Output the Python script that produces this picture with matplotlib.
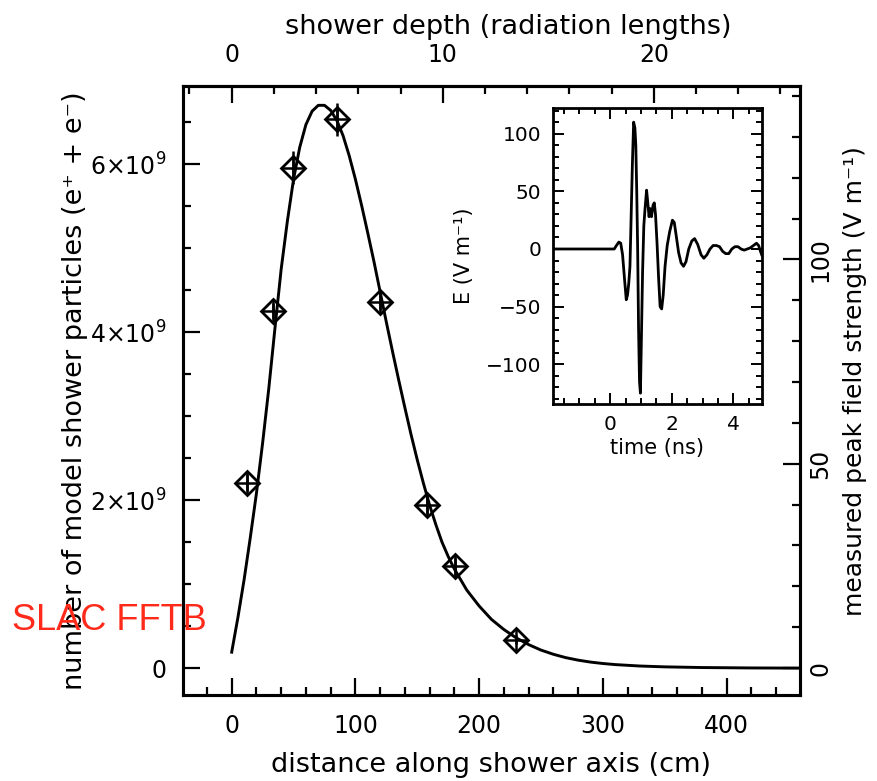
import numpy as np
import matplotlib
matplotlib.use("Agg")
import matplotlib.pyplot as plt
from matplotlib.ticker import MultipleLocator, FixedLocator

plt.rcParams['font.family'] = ['DejaVu Sans']

# ---------------- data ----------------
# model shower curve: distance (cm) vs number of particles (units of 1e9)
curve_x = [0, 5, 10, 15, 20, 25, 30, 35, 40, 45, 50, 55, 60, 65, 70, 75, 80, 85,
           90, 95, 100, 105, 110, 115, 120, 125, 130, 135, 140, 145, 150, 155, 160,
           165, 170, 175, 180, 190, 200, 210, 220, 230, 240, 250, 260, 270, 280,
           290, 300, 310, 330, 350, 380, 420, 460]
curve_n = [0.19, 0.60, 1.05, 1.55, 2.08, 2.68, 3.33, 4.05, 4.75, 5.32, 5.82, 6.20,
           6.47, 6.63, 6.70, 6.70, 6.64, 6.52, 6.34, 6.10, 5.82, 5.51, 5.18, 4.84,
           4.48, 4.12, 3.77, 3.43, 3.10, 2.78, 2.48, 2.20, 1.94, 1.71, 1.50, 1.33,
           1.18, 0.93, 0.74, 0.58, 0.46, 0.36, 0.28, 0.215, 0.165, 0.125, 0.095,
           0.072, 0.055, 0.042, 0.025, 0.015, 0.007, 0.002, 0.0]

# measured peak field strength (V/m)
meas_x = [12.1, 33.1, 49.8, 84.9, 119.9, 158.1, 180.5, 229.7]
meas_e = [45.4, 87.3, 122.4, 134.3, 89.6, 39.8, 24.9, 7.0]
meas_err = [2, 2, 4, 4, 2, 2, 2, 1]

# inset waveform: time (ns) vs E (V/m)
wave_t = [-1.87, 0.13, 0.20, 0.28, 0.34, 0.40, 0.46, 0.52, 0.56, 0.60, 0.64, 0.68,
          0.72, 0.76, 0.80, 0.83, 0.86, 0.89, 0.92, 0.95, 0.98, 1.01, 1.05, 1.09,
          1.13, 1.18, 1.22, 1.26, 1.30, 1.34, 1.39, 1.43, 1.47, 1.52, 1.57, 1.62,
          1.67, 1.72, 1.78, 1.85, 1.93, 2.02, 2.08, 2.14, 2.22, 2.30, 2.38, 2.46,
          2.55, 2.65, 2.74, 2.84, 2.95, 3.04, 3.14, 3.24, 3.34, 3.45, 3.55, 3.65,
          3.75, 3.85, 3.95, 4.05, 4.15, 4.25, 4.35, 4.45, 4.55, 4.65, 4.75, 4.82,
          4.88, 4.92]
wave_e = [0, 0, 3, 6, 5, -5, -25, -44, -40, -30, -15, 30,
          75, 110, 105, 90, 50, 0, -70, -115, -125, -80, -20, 20,
          35, 51, 40, 28, 35, 28, 38, 40, 30, 5, -25, -50,
          -52, -40, -15, 3, 15, 25, 23, 12, -3, -12, -15, -11,
          0, 7, 9, 4, -5, -8, -5, 0, 3, 3, 2, -2,
          -4, -4, 0, 2, 2, 0, -1, 0, 1, 3, 5, 3,
          -2, -5]

left_ticks = [0, 2, 4, 6]          # units of 1e9
left_labels = ['0', r'$2{\times}10^{9}$', r'$4{\times}10^{9}$', r'$6{\times}10^{9}$']
bottom_ticks = [0, 100, 200, 300, 400]
top_ticks = [0, 10, 20]
right_ticks = [0, 50, 100]
inset_xticks = [0, 2, 4]
inset_yticks = [-100, -50, 0, 50, 100]
inset_ylabels = ['−100', '−50', '0', '50', '100']

X0 = 17.06            # cm per radiation length
N_PER_VM = 0.04866    # 1e9 particles per V/m (axis scaling)

# ---------------- figure ----------------
W, H = 878, 781
fig = plt.figure(figsize=(W / 100, H / 100), dpi=100)

def fx(px):
    return px / W

def fy(py):
    return 1 - py / H

ax = fig.add_axes([fx(182.7), fy(695), fx(800) - fx(182.7), fy(86) - fy(695)])
lw_sp = 2.2
fs = 17
fl = 19.5

ax.plot(curve_x, curve_n, color='black', lw=2.1, zorder=3, solid_joinstyle='round')
ax.set_xlim(-39.6, 459.4)
ax.set_ylim(-0.32, 6.93)

ax.xaxis.set_major_locator(FixedLocator(bottom_ticks))
ax.xaxis.set_minor_locator(MultipleLocator(20))
ax.yaxis.set_major_locator(FixedLocator(left_ticks))
ax.set_yticklabels(left_labels)
ax.yaxis.set_minor_locator(MultipleLocator(0.5))
ax.tick_params(axis='both', which='major', direction='in', length=12, width=1.6,
               labelsize=fs, top=False, right=False)
ax.tick_params(axis='both', which='minor', direction='in', length=6, width=1.6,
               top=False, right=False)
ax.tick_params(axis='x', which='major', pad=14)
ax.tick_params(axis='y', which='major', pad=12)
for s in ax.spines.values():
    s.set_linewidth(lw_sp)
ax.set_xlabel('distance along shower axis (cm)', fontsize=fl, labelpad=10)
ax.set_ylabel('number of model shower particles (e⁺ + e⁻)', fontsize=fl, labelpad=1)

# top axis: shower depth
sec = ax.secondary_xaxis('top', functions=(lambda x: x / X0, lambda d: d * X0))
sec.xaxis.set_major_locator(FixedLocator(top_ticks))
sec.xaxis.set_minor_locator(MultipleLocator(2))
sec.tick_params(which='major', direction='in', length=12, width=1.6, labelsize=fs, pad=14)
sec.tick_params(which='minor', direction='in', length=6, width=1.6)
sec.set_xlabel('shower depth (radiation lengths)', fontsize=fl, labelpad=6)
sec.xaxis.label.set_x(0.527)
for s in sec.spines.values():
    s.set_linewidth(lw_sp)

# right axis: measured field
axr = ax.twinx()
axr.set_ylim(-0.32 / N_PER_VM, 6.93 / N_PER_VM)
axr.yaxis.set_major_locator(FixedLocator(right_ticks))
axr.yaxis.set_minor_locator(MultipleLocator(10))
axr.tick_params(which='major', direction='in', length=12, width=1.6, labelsize=fs,
                pad=6, labelrotation=90)
axr.tick_params(which='minor', direction='in', length=6, width=1.6)
for lab in axr.get_yticklabels():
    lab.set_va('center')
for s in axr.spines.values():
    s.set_linewidth(lw_sp)
axr.set_ylabel('measured peak field strength (V m⁻¹)', fontsize=18, labelpad=8)
axr.yaxis.label.set_y(0.515)

axr.errorbar(meas_x, meas_e, yerr=meas_err, fmt='none', ecolor='black',
             elinewidth=1.8, capsize=0, zorder=4)
axr.plot(meas_x, meas_e, linestyle='none', marker='D', markersize=12,
         markerfacecolor='none', markeredgecolor='black', markeredgewidth=2.0, zorder=5)
axr.plot(meas_x, meas_e, linestyle='none', marker='+', markersize=16,
         markeredgecolor='black', markeredgewidth=1.8, zorder=5)

# inset
axi = fig.add_axes([fx(552.7), fy(404), fx(761.7) - fx(552.7), fy(108.3) - fy(404)])
axi.plot(wave_t, wave_e, color='black', lw=2.0)
axi.set_xlim(-1.87, 4.92)
axi.set_ylim(-134.4, 122)
axi.xaxis.set_major_locator(FixedLocator(inset_xticks))
axi.xaxis.set_minor_locator(MultipleLocator(0.5))
axi.yaxis.set_major_locator(FixedLocator(inset_yticks))
axi.yaxis.set_minor_locator(MultipleLocator(10))
axi.set_yticklabels(inset_ylabels)
axi.tick_params(which='major', direction='in', length=8, width=1.4, labelsize=14.5,
                top=True, right=True, pad=8)
axi.tick_params(which='minor', direction='in', length=4, width=1.4, top=True, right=True)
for s in axi.spines.values():
    s.set_linewidth(2.0)
axi.set_xlabel('time (ns)', fontsize=15, labelpad=3)
axi.set_ylabel('E (V m⁻¹)', fontsize=15, labelpad=9)

fig.text(fx(12), fy(620), 'SLAC FFTB', color='#ff2a1a', fontsize=26,
         family=['Liberation Sans', 'DejaVu Sans'], va='center', ha='left')

fig.savefig('out.png', dpi=100)
